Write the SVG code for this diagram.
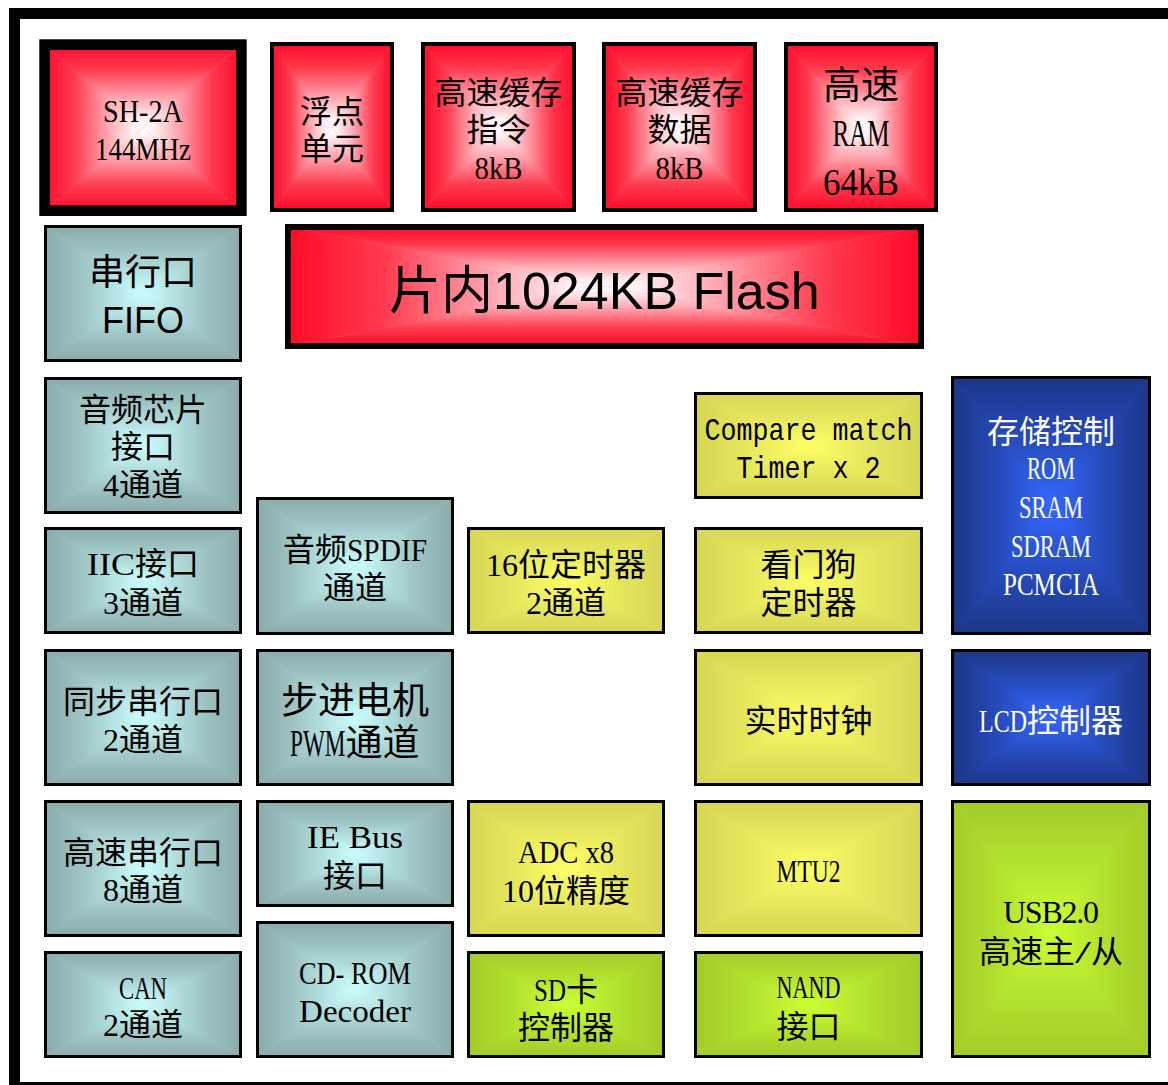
<svg xmlns="http://www.w3.org/2000/svg" xmlns:xlink="http://www.w3.org/1999/xlink" width="1168" height="1085" viewBox="0 0 1168 1085">
<style>
.t{font-family:"Liberation Serif","Noto Sans CJK SC",serif;font-size:32px;fill:#000}
.m{text-anchor:middle}
.w{fill:#fff}
.mono{font-family:"Liberation Mono","Noto Sans CJK SC",monospace}
.bx{fill:none;stroke:#000;stroke-width:3}
.rb{fill:none;stroke:#000;stroke-width:4}
</style>
<defs>
<linearGradient id="sR"><stop offset="0" stop-color="#ff0a2a"/><stop offset="0.3" stop-color="#ff3a4e"/><stop offset="0.65" stop-color="#ffa8b2"/><stop offset="0.9" stop-color="#fff2f3"/><stop offset="1" stop-color="#ffffff"/></linearGradient>
<linearGradient id="sT"><stop offset="0" stop-color="#8aabab"/><stop offset="0.4" stop-color="#a0c6c6"/><stop offset="1" stop-color="#ccffff"/></linearGradient>
<linearGradient id="sY"><stop offset="0" stop-color="#d6d655"/><stop offset="0.5" stop-color="#e8e85e"/><stop offset="1" stop-color="#ffff66"/></linearGradient>
<linearGradient id="sG"><stop offset="0" stop-color="#a2cb28"/><stop offset="0.5" stop-color="#b5e22e"/><stop offset="1" stop-color="#ccff33"/></linearGradient>
<linearGradient id="sB"><stop offset="0" stop-color="#1c3686"/><stop offset="0.4" stop-color="#2447b2"/><stop offset="1" stop-color="#3568ff"/></linearGradient>

<linearGradient id="RT" xlink:href="#sR" x1="0" y1="0" x2="0" y2="1"/>
<linearGradient id="RB" xlink:href="#sR" x1="0" y1="1" x2="0" y2="0"/>
<linearGradient id="RL" xlink:href="#sR" x1="0" y1="0" x2="1" y2="0"/>
<linearGradient id="RR" xlink:href="#sR" x1="1" y1="0" x2="0" y2="0"/>
<linearGradient id="TT" xlink:href="#sT" x1="0" y1="0" x2="0" y2="1"/>
<linearGradient id="TB" xlink:href="#sT" x1="0" y1="1" x2="0" y2="0"/>
<linearGradient id="TL" xlink:href="#sT" x1="0" y1="0" x2="1" y2="0"/>
<linearGradient id="TR" xlink:href="#sT" x1="1" y1="0" x2="0" y2="0"/>
<linearGradient id="YT" xlink:href="#sY" x1="0" y1="0" x2="0" y2="1"/>
<linearGradient id="YB" xlink:href="#sY" x1="0" y1="1" x2="0" y2="0"/>
<linearGradient id="YL" xlink:href="#sY" x1="0" y1="0" x2="1" y2="0"/>
<linearGradient id="YR" xlink:href="#sY" x1="1" y1="0" x2="0" y2="0"/>
<linearGradient id="GT" xlink:href="#sG" x1="0" y1="0" x2="0" y2="1"/>
<linearGradient id="GB" xlink:href="#sG" x1="0" y1="1" x2="0" y2="0"/>
<linearGradient id="GL" xlink:href="#sG" x1="0" y1="0" x2="1" y2="0"/>
<linearGradient id="GR" xlink:href="#sG" x1="1" y1="0" x2="0" y2="0"/>
<linearGradient id="BT" xlink:href="#sB" x1="0" y1="0" x2="0" y2="1"/>
<linearGradient id="BB" xlink:href="#sB" x1="0" y1="1" x2="0" y2="0"/>
<linearGradient id="BL" xlink:href="#sB" x1="0" y1="0" x2="1" y2="0"/>
<linearGradient id="BR" xlink:href="#sB" x1="1" y1="0" x2="0" y2="0"/>

<g id="pR"><rect width="1" height="1" fill="#ff6a7a"/><polygon points="0,0 1,0 0.5,0.5" fill="url(#RT)"/><polygon points="0,1 1,1 0.5,0.5" fill="url(#RB)"/><polygon points="0,0 0,1 0.5,0.5" fill="url(#RL)"/><polygon points="1,0 1,1 0.5,0.5" fill="url(#RR)"/></g>
<g id="pT"><rect width="1" height="1" fill="#a0c6c6"/><polygon points="0,0 1,0 0.5,0.5" fill="url(#TT)"/><polygon points="0,1 1,1 0.5,0.5" fill="url(#TB)"/><polygon points="0,0 0,1 0.5,0.5" fill="url(#TL)"/><polygon points="1,0 1,1 0.5,0.5" fill="url(#TR)"/></g>
<g id="pY"><rect width="1" height="1" fill="#e8e85e"/><polygon points="0,0 1,0 0.5,0.5" fill="url(#YT)"/><polygon points="0,1 1,1 0.5,0.5" fill="url(#YB)"/><polygon points="0,0 0,1 0.5,0.5" fill="url(#YL)"/><polygon points="1,0 1,1 0.5,0.5" fill="url(#YR)"/></g>
<g id="pG"><rect width="1" height="1" fill="#b5e22e"/><polygon points="0,0 1,0 0.5,0.5" fill="url(#GT)"/><polygon points="0,1 1,1 0.5,0.5" fill="url(#GB)"/><polygon points="0,0 0,1 0.5,0.5" fill="url(#GL)"/><polygon points="1,0 1,1 0.5,0.5" fill="url(#GR)"/></g>
<g id="pB"><rect width="1" height="1" fill="#2447b2"/><polygon points="0,0 1,0 0.5,0.5" fill="url(#BT)"/><polygon points="0,1 1,1 0.5,0.5" fill="url(#BB)"/><polygon points="0,0 0,1 0.5,0.5" fill="url(#BL)"/><polygon points="1,0 1,1 0.5,0.5" fill="url(#BR)"/></g>
</defs>

<rect x="0" y="0" width="1168" height="1085" fill="#fff"/>
<rect id="frame" x="14.5" y="13.5" width="1170" height="1074" fill="#fff" stroke="#000" stroke-width="11"/>

<g id="connectors"/>

<!-- red row -->
<g id="n_cpu">
<use xlink:href="#pR" transform="translate(44.65 44.65) scale(196.7 166)"/>
<rect x="44.65" y="44.65" width="196.7" height="166" fill="none" stroke="#000" stroke-width="10.7"/>
<text class="t m" x="143" y="122" textLength="80" lengthAdjust="spacingAndGlyphs">SH-2A</text>
<text class="t m" x="143" y="160" textLength="96" lengthAdjust="spacingAndGlyphs">144MHz</text>
</g>
<g id="n_fpu">
<use xlink:href="#pR" transform="translate(272 44) scale(120 166)"/>
<rect class="rb" x="272" y="44" width="120" height="166"/>
<text class="t m" x="332" y="123">浮点</text>
<text class="t m" x="332" y="160">单元</text>
</g>
<g id="n_icache">
<use xlink:href="#pR" transform="translate(423 44) scale(151 166)"/>
<rect class="rb" x="423" y="44" width="151" height="166"/>
<text class="t m" x="498.5" y="104">高速缓存</text>
<text class="t m" x="498.5" y="141">指令</text>
<text class="t m" x="498.5" y="179" textLength="48" lengthAdjust="spacingAndGlyphs">8kB</text>
</g>
<g id="n_dcache">
<use xlink:href="#pR" transform="translate(604 44) scale(151 166)"/>
<rect class="rb" x="604" y="44" width="151" height="166"/>
<text class="t m" x="679.5" y="104">高速缓存</text>
<text class="t m" x="679.5" y="141">数据</text>
<text class="t m" x="679.5" y="179" textLength="48" lengthAdjust="spacingAndGlyphs">8kB</text>
</g>
<g id="n_ram">
<use xlink:href="#pR" transform="translate(786 44) scale(150 166)"/>
<rect class="rb" x="786" y="44" width="150" height="166"/>
<text class="t m" x="861" y="98" style="font-size:38px">高速</text>
<text class="t m" x="861" y="146" style="font-size:38px" textLength="57" lengthAdjust="spacingAndGlyphs">RAM</text>
<text class="t m" x="861" y="195" style="font-size:38px" textLength="76" lengthAdjust="spacingAndGlyphs">64kB</text>
</g>
<g id="n_flash">
<use xlink:href="#pR" transform="translate(288 227) scale(633 119)"/>
<rect x="288" y="227" width="633" height="119" fill="none" stroke="#000" stroke-width="6"/>
<text class="t" x="389" y="309" style="font-size:52px">片内<tspan style="font-family:'Liberation Sans',sans-serif">1024KB Flash</tspan></text>
</g>

<!-- teal column 1 -->
<g id="n_fifo">
<use xlink:href="#pT" transform="translate(45.5 226.5) scale(195 134)"/>
<rect class="bx" x="45.5" y="226.5" width="195" height="134"/>
<text class="t m" x="143" y="285" style="font-size:36px">串行口</text>
<text class="t m" x="143" y="333" style="font-size:36px;font-family:'Liberation Sans',sans-serif">FIFO</text>
</g>
<g id="n_audio">
<use xlink:href="#pT" transform="translate(45.5 378.5) scale(195 134)"/>
<rect class="bx" x="45.5" y="378.5" width="195" height="134"/>
<text class="t m" x="143" y="421">音频芯片</text>
<text class="t m" x="143" y="458">接口</text>
<text class="t m" x="143" y="496">4通道</text>
</g>
<g id="n_iic">
<use xlink:href="#pT" transform="translate(45.5 528.5) scale(195 104)"/>
<rect class="bx" x="45.5" y="528.5" width="195" height="104"/>
<text class="t" x="87" y="575"><tspan textLength="48" lengthAdjust="spacingAndGlyphs">IIC</tspan>接口</text>
<text class="t m" x="143" y="614">3通道</text>
</g>
<g id="n_sync">
<use xlink:href="#pT" transform="translate(45.5 650.5) scale(195 134)"/>
<rect class="bx" x="45.5" y="650.5" width="195" height="134"/>
<text class="t m" x="143" y="713">同步串行口</text>
<text class="t m" x="143" y="751">2通道</text>
</g>
<g id="n_hsci">
<use xlink:href="#pT" transform="translate(45.5 801.5) scale(195 134)"/>
<rect class="bx" x="45.5" y="801.5" width="195" height="134"/>
<text class="t m" x="143" y="864">高速串行口</text>
<text class="t m" x="143" y="901">8通道</text>
</g>
<g id="n_can">
<use xlink:href="#pT" transform="translate(45.5 952.5) scale(195 104)"/>
<rect class="bx" x="45.5" y="952.5" width="195" height="104"/>
<text class="t m" x="143" y="999" textLength="48" lengthAdjust="spacingAndGlyphs">CAN</text>
<text class="t m" x="143" y="1036">2通道</text>
</g>

<!-- teal column 2 -->
<g id="n_spdif">
<use xlink:href="#pT" transform="translate(257.5 498.5) scale(195 135)"/>
<rect class="bx" x="257.5" y="498.5" width="195" height="135"/>
<text class="t" x="283" y="561">音频<tspan textLength="80" lengthAdjust="spacingAndGlyphs">SPDIF</tspan></text>
<text class="t m" x="355" y="599">通道</text>
</g>
<g id="n_pwm">
<use xlink:href="#pT" transform="translate(257.5 650.5) scale(195 134)"/>
<rect class="bx" x="257.5" y="650.5" width="195" height="134"/>
<text class="t m" x="355" y="714" style="font-size:37px">步进电机</text>
<text class="t" transform="translate(290 756) scale(0.628 1)" x="0" y="0" style="font-size:37px">PWM</text>
<text class="t" x="345.5" y="756" style="font-size:37px">通道</text>
</g>
<g id="n_iebus">
<use xlink:href="#pT" transform="translate(257.5 801.5) scale(195 104)"/>
<rect class="bx" x="257.5" y="801.5" width="195" height="104"/>
<text class="t m" x="355" y="848" textLength="96" lengthAdjust="spacingAndGlyphs">IE Bus</text>
<text class="t m" x="355" y="887">接口</text>
</g>
<g id="n_cdrom">
<use xlink:href="#pT" transform="translate(257.5 922.5) scale(195 134)"/>
<rect class="bx" x="257.5" y="922.5" width="195" height="134"/>
<text class="t m" x="355" y="984" textLength="112" lengthAdjust="spacingAndGlyphs">CD- ROM</text>
<text class="t m" x="355" y="1022" textLength="112" lengthAdjust="spacingAndGlyphs">Decoder</text>
</g>

<!-- column 3 -->
<g id="n_timer16">
<use xlink:href="#pY" transform="translate(468.5 528.5) scale(195 104)"/>
<rect class="bx" x="468.5" y="528.5" width="195" height="104"/>
<text class="t m" x="566" y="576">16位定时器</text>
<text class="t m" x="566" y="614">2通道</text>
</g>
<g id="n_adc">
<use xlink:href="#pY" transform="translate(468.5 801.5) scale(195 134)"/>
<rect class="bx" x="468.5" y="801.5" width="195" height="134"/>
<text class="t m" x="566" y="863" textLength="96" lengthAdjust="spacingAndGlyphs">ADC x8</text>
<text class="t m" x="566" y="902">10位精度</text>
</g>
<g id="n_sd">
<use xlink:href="#pG" transform="translate(468.5 952.5) scale(195 104)"/>
<rect class="bx" x="468.5" y="952.5" width="195" height="104"/>
<text class="t" transform="translate(534 1001) scale(0.78 1)" x="0" y="0">SD</text>
<text class="t" x="566" y="1001">卡</text>
<text class="t m" x="566" y="1039">控制器</text>
</g>

<!-- column 4 -->
<g id="n_cmt">
<use xlink:href="#pY" transform="translate(695.5 393.5) scale(226 104)"/>
<rect class="bx" x="695.5" y="393.5" width="226" height="104"/>
<text class="t m mono" x="808.5" y="440" textLength="208" lengthAdjust="spacingAndGlyphs">Compare match</text>
<text class="t m mono" x="808.5" y="478" textLength="144" lengthAdjust="spacingAndGlyphs">Timer x 2</text>
</g>
<g id="n_wdt">
<use xlink:href="#pY" transform="translate(695.5 528.5) scale(226 104)"/>
<rect class="bx" x="695.5" y="528.5" width="226" height="104"/>
<text class="t m" x="808.5" y="576">看门狗</text>
<text class="t m" x="808.5" y="614">定时器</text>
</g>
<g id="n_rtc">
<use xlink:href="#pY" transform="translate(695.5 650.5) scale(226 134)"/>
<rect class="bx" x="695.5" y="650.5" width="226" height="134"/>
<text class="t m" x="808.5" y="732">实时时钟</text>
</g>
<g id="n_mtu2">
<use xlink:href="#pY" transform="translate(695.5 801.5) scale(226 134)"/>
<rect class="bx" x="695.5" y="801.5" width="226" height="134"/>
<text class="t m" x="808.5" y="882" textLength="64" lengthAdjust="spacingAndGlyphs">MTU2</text>
</g>
<g id="n_nand">
<use xlink:href="#pG" transform="translate(695.5 952.5) scale(226 104)"/>
<rect class="bx" x="695.5" y="952.5" width="226" height="104"/>
<text class="t m" x="808.5" y="998" textLength="64" lengthAdjust="spacingAndGlyphs">NAND</text>
<text class="t m" x="808.5" y="1038">接口</text>
</g>

<!-- column 5 -->
<g id="n_memctl">
<use xlink:href="#pB" transform="translate(952.5 377.5) scale(197 256)"/>
<rect class="bx" x="952.5" y="377.5" width="197" height="256"/>
<text class="t m w" x="1051" y="443">存储控制</text>
<text class="t m w" x="1051" y="479" textLength="48" lengthAdjust="spacingAndGlyphs">ROM</text>
<text class="t m w" x="1051" y="518" textLength="64" lengthAdjust="spacingAndGlyphs">SRAM</text>
<text class="t m w" x="1051" y="557" textLength="80" lengthAdjust="spacingAndGlyphs">SDRAM</text>
<text class="t m w" x="1051" y="595" textLength="96" lengthAdjust="spacingAndGlyphs">PCMCIA</text>
</g>
<g id="n_lcd">
<use xlink:href="#pB" transform="translate(952.5 650.5) scale(197 134)"/>
<rect class="bx" x="952.5" y="650.5" width="197" height="134"/>
<text class="t w" transform="translate(979 732) scale(0.75 1)" x="0" y="0">LCD</text>
<text class="t w" x="1027" y="732">控制器</text>
</g>
<g id="n_usb">
<use xlink:href="#pG" transform="translate(952.5 801.5) scale(197 255)"/>
<rect class="bx" x="952.5" y="801.5" width="197" height="255"/>
<text class="t m" x="1051" y="923" textLength="96" lengthAdjust="spacing">USB2.0</text>
<text class="t" x="979" y="963">高速主<tspan textLength="16" lengthAdjust="spacingAndGlyphs">/</tspan>从</text>
</g>
</svg>
